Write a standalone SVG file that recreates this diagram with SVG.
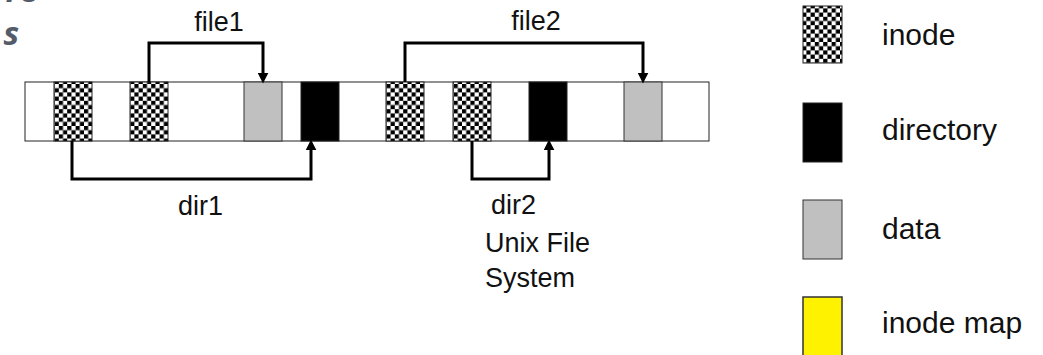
<svg xmlns="http://www.w3.org/2000/svg" width="1043" height="355" viewBox="0 0 1043 355">
  <style>
    .lbl { font-family: "Liberation Sans", Arial, sans-serif; font-size: 27px; fill: #111; }
    .leg { font-family: "Liberation Sans", Arial, sans-serif; font-size: 30px; fill: #111; }
    .title { font-family: "Open Sans", "DejaVu Sans", sans-serif; font-size: 33px; font-weight: bold; font-style: italic; fill: #545c6a; }
    .inode { fill: url(#checker); stroke: #222; stroke-width: 1; }
    .dir { fill: #000; stroke: #222; stroke-width: 1; }
    .data { fill: #c0c0c0; stroke: #333; stroke-width: 1; }
    .imap { fill: #fff200; stroke: #333; stroke-width: 1.5; }
    .link { fill: none; stroke: #000; stroke-width: 3; marker-end: url(#arrow); }
  </style>
  <defs>
    <pattern id="checker" patternUnits="userSpaceOnUse" width="8.4" height="8.4">
      <rect width="8.4" height="8.4" fill="#fff"/>
      <rect width="4.2" height="4.2" fill="#000"/>
      <rect x="4.2" y="4.2" width="4.2" height="4.2" fill="#000"/>
    </pattern>
    <marker id="arrow" viewBox="0 0 10 10" refX="4" refY="5" markerWidth="11" markerHeight="11" markerUnits="userSpaceOnUse" orient="auto">
      <path d="M0,0 L10,5 L0,10 Z" fill="#000"/>
    </marker>
  </defs>

  <rect width="1043" height="355" fill="#fff"/>

  <!-- heading lines running off the left edge -->
  <text class="title" x="38" y="2" text-anchor="end">re</text>
  <text class="title" x="19" y="45" text-anchor="end">s</text>

  <!-- disk layout strip -->
  <g id="disk">
    <rect x="25" y="82" width="684" height="59" fill="#fff" stroke="#222" stroke-width="1"/>
  </g>
  <g id="inode1"><rect class="inode" x="54" y="82" width="38" height="59"/></g>
  <g id="inode2"><rect class="inode" x="130" y="82" width="38" height="59"/></g>
  <g id="data1"><rect class="data" x="244" y="82" width="38" height="59"/></g>
  <g id="dir1block"><rect class="dir" x="301" y="82" width="38" height="59"/></g>
  <g id="inode3"><rect class="inode" x="386" y="82" width="38" height="59"/></g>
  <g id="inode4"><rect class="inode" x="453" y="82" width="38" height="59"/></g>
  <g id="dir2block"><rect class="dir" x="529" y="82" width="38" height="59"/></g>
  <g id="data2"><rect class="data" x="624" y="82" width="38" height="59"/></g>

  <!-- pointers between blocks -->
  <g id="connectors">
    <path class="link" d="M149,82 V43 H263 V77"/>
    <path class="link" d="M405,82 V43 H643 V77"/>
    <path class="link" d="M72,141 V179 H311 V146"/>
    <path class="link" d="M472,141 V179 H549 V146"/>
  </g>

  <g id="labels">
    <text class="lbl" x="219" y="31" text-anchor="middle">file1</text>
    <text class="lbl" x="536" y="30" text-anchor="middle">file2</text>
    <text class="lbl" x="178" y="215">dir1</text>
    <text class="lbl" x="491" y="214">dir2</text>
    <text class="lbl" x="485" y="252">Unix File</text>
    <text class="lbl" x="485" y="287">System</text>
  </g>

  <!-- key -->
  <g id="legend-inode">
    <rect class="inode" x="803" y="6" width="39" height="57"/>
    <text class="leg" x="882" y="45">inode</text>
  </g>
  <g id="legend-directory">
    <rect class="dir" x="803" y="103" width="39" height="59"/>
    <text class="leg" x="882" y="140">directory</text>
  </g>
  <g id="legend-data">
    <rect class="data" x="803" y="200" width="39" height="59"/>
    <text class="leg" x="882" y="239">data</text>
  </g>
  <g id="legend-imap">
    <rect class="imap" x="803" y="297" width="39" height="70"/>
    <text class="leg" x="882" y="333">inode map</text>
  </g>
</svg>
